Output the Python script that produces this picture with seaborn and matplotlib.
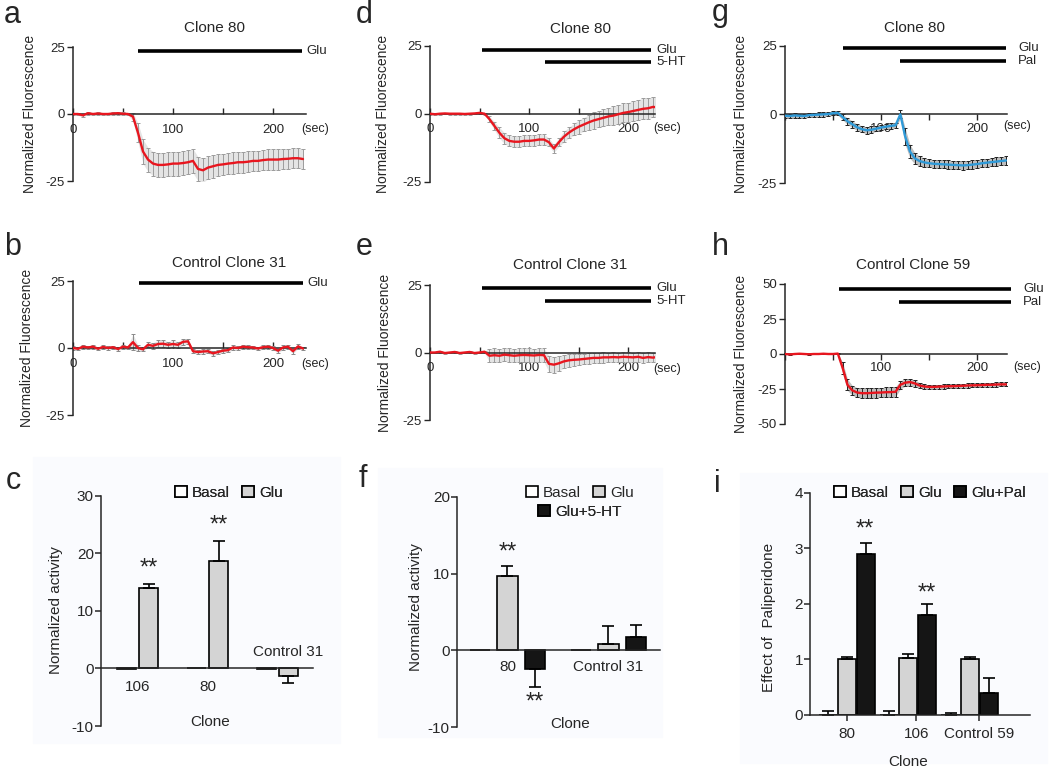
import numpy as np
import pandas as pd
import matplotlib
matplotlib.use('Agg')
import matplotlib.pyplot as plt
from matplotlib.patches import Patch, Rectangle
import seaborn as sns

# ---- imaging traces (sampled every 5 sec) ----
t = np.arange(0, 235, 5)

a_mean = [0, 0, -0.5, 0.3, 0, 0.2, 0, 0, 0.2, 0.3, 0.1, 0,
          -1, -7, -14, -17, -18.5, -19, -19, -18.8, -18.5, -18.5, -18.3, -18,
          -17.5, -20.5, -21, -20, -19.5, -19, -18.8, -18.5, -18.3, -18, -18, -17.8,
          -17.5, -17.5, -17.2, -17, -17, -17, -16.8, -16.7, -16.5, -16.5, -16.8]
a_err = [0.5, 0.5, 0.5, 0.5, 0.5, 0.5, 0.5, 0.5, 0.5, 0.5, 0.5, 0.5,
         1.5, 3.5, 4.5, 4.5, 4.5, 4.5, 4.5, 4.5, 4.5, 4.5, 4.5, 4.5,
         4.5, 4.5, 4.5, 4.2, 4.2, 4.0, 4.0, 4.0, 4.0, 4.0, 4.0, 4.0,
         3.8, 3.8, 3.8, 3.8, 3.8, 3.8, 3.8, 3.8, 3.8, 3.8, 3.8]

b_mean = [0, -0.3, 0.5, 0.2, 0.5, -0.3, 0.4, 0, 0.3, -0.4, 0.5, 0.2,
          2.2, 0, -0.5, 1.2, 0.8, 1.5, 1.6, 1.2, 1.5, 1.2, 2.3, 2.5,
          -1.2, -1.5, -1.3, -1.2, -2.0, -1.5, -1.0, -0.8, 0.2, 0, 0.5, 0.3,
          0.2, -0.2, 0.3, 0.5, 0, -1.0, 0.2, 0.5, -1.2, 0.6, -0.2]
b_err = [0.6, 0.6, 0.8, 0.6, 0.7, 0.6, 0.6, 0.7, 0.6, 0.6, 0.8, 0.7,
         3.0, 1.0, 0.8, 1.0, 1.2, 1.3, 1.3, 1.2, 1.3, 1.2, 1.2, 1.0,
         0.8, 0.8, 0.8, 0.8, 0.9, 0.8, 0.8, 0.8, 0.8, 0.7, 0.8, 0.8,
         0.7, 0.7, 0.8, 0.7, 0.7, 0.8, 0.8, 0.8, 0.9, 0.8, 0.7]

d_mean = [0, -0.2, 0, 0.1, 0, 0, 0, -0.1, 0, 0.1, 0.3, 0,
          -2, -4.5, -7, -9, -10, -10.3, -10.3, -10, -10, -9.8, -9.5, -9.5,
          -10.5, -12.8, -10.5, -8.5, -7, -5.8, -4.8, -4, -3.2, -2.5, -2, -1.5,
          -1, -0.7, -0.2, 0.3, 0.6, 1, 1.4, 1.8, 2, 2.5, 2.3]
d_err = [0.3, 0.3, 0.3, 0.3, 0.3, 0.3, 0.3, 0.3, 0.3, 0.3, 0.3, 0.3,
         1.0, 1.5, 2.0, 2.0, 2.0, 2.0, 2.0, 2.0, 2.0, 2.0, 2.0, 2.0,
         1.5, 1.5, 1.5, 2.0, 2.0, 2.2, 2.5, 2.5, 2.8, 3.0, 3.0, 3.2,
         3.2, 3.5, 3.5, 3.5, 3.5, 3.8, 3.8, 3.8, 3.8, 3.8, 3.8]

e_mean = [0, 0, 0.3, -0.2, 0, 0.2, -0.2, 0, 0.2, -0.2, 0, 0.3,
          -1.2, -1.0, -1.2, -0.8, -1.0, -1.2, -1.0, -0.9, -1.0, -1.1, -0.9, -1.0,
          -4.2, -4.5, -4.0, -3.3, -2.9, -2.7, -2.6, -2.4, -2.2, -2.0, -2.0, -1.8,
          -1.8, -1.7, -1.8, -1.6, -1.7, -1.8, -1.6, -2.0, -1.7, -1.9, -1.6]
e_err = [0.3, 0.3, 0.3, 0.3, 0.3, 0.3, 0.3, 0.3, 0.3, 0.3, 0.3, 0.3,
         2.5, 2.5, 2.5, 2.5, 2.5, 2.5, 2.5, 2.5, 2.5, 2.5, 2.5, 2.5,
         3.0, 3.0, 2.8, 2.5, 2.5, 2.2, 2.2, 2.0, 2.0, 2.0, 2.0, 2.0,
         1.8, 1.8, 1.8, 1.8, 1.8, 1.8, 1.8, 1.8, 1.8, 1.8, 1.8]

g_mean = [-0.5, -0.6, -0.4, -0.5, -0.6, -0.3, -0.2, -0.1, 0, 0.1, 0.4, 0.5,
          -1.0, -2.5, -3.6, -4.7, -5.4, -5.8, -5.6, -5.2, -4.8, -4.5, -4.2, -4.0,
          0.0, -8.0, -13.5, -16.0, -17.0, -17.5, -17.8, -18.0, -18.1, -18.2, -18.3, -18.4,
          -18.5, -18.6, -18.5, -18.3, -18.1, -17.8, -17.6, -17.4, -17.2, -17.0, -16.8]
g_err = [0.8, 0.8, 0.8, 0.8, 0.8, 0.8, 0.8, 0.8, 0.8, 0.8, 0.8, 0.8,
         1.0, 1.2, 1.2, 1.2, 1.2, 1.2, 1.2, 1.0, 1.0, 1.0, 1.0, 1.0,
         1.5, 3.0, 2.5, 2.0, 1.8, 1.6, 1.5, 1.5, 1.5, 1.5, 1.5, 1.5,
         1.5, 1.5, 1.5, 1.5, 1.5, 1.5, 1.5, 1.5, 1.5, 1.5, 1.5]

h_mean = [0, -0.3, 0, 0.2, 0, -0.2, 0, 0, 0.2, 0, 0, 0.3,
          -10, -22, -26, -27.5, -28, -28, -27.8, -27.6, -27.5, -27.3, -27.2, -27,
          -22, -20.5, -20, -21, -22.5, -23.2, -23.5, -23.5, -23.3, -23.2, -23, -23,
          -22.8, -22.7, -22.5, -22.4, -22.3, -22.2, -22, -22, -21.8, -21.7, -21.7]
h_err = [0.2, 0.2, 0.2, 0.2, 0.2, 0.2, 0.2, 0.2, 0.2, 0.2, 0.2, 0.2,
         4.0, 4.0, 3.5, 3.5, 3.5, 3.5, 3.5, 3.5, 3.5, 3.5, 3.5, 3.5,
         3.0, 2.5, 2.5, 2.5, 2.0, 1.5, 1.5, 1.5, 1.5, 1.5, 1.5, 1.5,
         1.5, 1.5, 1.5, 1.5, 1.5, 1.5, 1.5, 1.5, 1.5, 1.5, 1.5]

# drug application bars: (label, start sec, end sec, level)
a_stim = [('Glu', 65, 229, 23.6)]
b_stim = [('Glu', 66, 230, 24.3)]
d_stim = [('Glu', 52, 223, 23.6), ('5-HT', 116, 223, 19.0)]
e_stim = [('Glu', 52, 223, 23.9), ('5-HT', 116, 223, 19.0)]
g_stim = [('Glu', 60, 230, 24.0), ('Pal', 120, 230, 19.5)]
h_stim = [('Glu', 56, 235, 46.6), ('Pal', 119, 235, 36.8)]

# ---- bar charts ----
c_clones = ['106', '80', 'Control 31']
c_conds = ['Basal', 'Glu']
c_means = [[-0.1, 0.0, -0.1], [13.9, 18.6, -1.35]]
c_errs = [[0, 0, 0], [0.7, 3.5, 1.25]]

f_clones = ['80', 'Control 31']
f_conds = ['Basal', 'Glu', 'Glu+5-HT']
f_means = [[0, 0], [9.65, 0.8], [-2.4, 1.75]]
f_errs = [[0, 0], [1.3, 2.35], [2.35, 1.55]]

i_clones = ['80', '106', 'Control 59']
i_conds = ['Basal', 'Glu', 'Glu+Pal']
i_means = [[0, 0, 0], [1.0, 1.02, 1.0], [2.9, 1.8, 0.39]]
i_errs = [[0.08, 0.08, 0.03], [0.05, 0.08, 0.05], [0.2, 0.19, 0.27]]

RED = '#e8161f'
BLUE = '#2f9ad8'
GREY = '#d4d4d4'
DARK = '#151515'

sns.set_theme(style='ticks')
plt.rcParams['font.family'] = ['Liberation Sans', 'DejaVu Sans']
plt.rcParams['axes.unicode_minus'] = False
plt.rcParams['axes.linewidth'] = 1.1

W, H = 1050, 775
fig = plt.figure(figsize=(W / 100, H / 100), dpi=100)


def panel(rect):
    l, tp, r, b = rect
    ax = fig.add_axes([l / W, 1 - b / H, (r - l) / W, (b - tp) / H])
    ax.set_facecolor('none')
    return ax


def label_at(ax, rect, axis, x, y):
    l, tp, r, b = rect
    axis.set_label_coords((x - l) / (r - l), (b - y) / (b - tp))


def ftext(x, y, s, **kw):
    fig.text(x / W, 1 - y / H, s, **kw)


# faint scan background behind the bar panels
for x0, y0, x1, y1 in [(33, 457, 340, 743), (378, 468, 662, 737), (740, 473, 1047, 763)]:
    fig.patches.append(Rectangle((x0 / W, 1 - y1 / H), (x1 - x0) / W, (y1 - y0) / H,
                                 transform=fig.transFigure, color='#fafbfe', zorder=-5))


def trace(rect, mean, err, color, ecolor, band, xmax, ylim, yticks, xlabels, tdir,
          stim, stim_dx, sec_xy, ylab_x):
    ax = panel(rect)
    lo = np.array(mean) - np.array(err)
    hi = np.array(mean) + np.array(err)
    ax.fill_between(t, lo, hi, color=band, lw=0, zorder=1)
    ax.errorbar(t, mean, yerr=err, fmt='none', ecolor=ecolor, elinewidth=0.7,
                capsize=1.3, capthick=0.7, zorder=2)
    sns.lineplot(x=t, y=mean, color=color, lw=1.7, ax=ax, zorder=3)
    ax.set_xlim(0, xmax)
    ax.set_ylim(*ylim)
    for sp in ['top', 'right']:
        ax.spines[sp].set_visible(False)
    ax.spines['bottom'].set_position(('data', 0))
    ax.set_xticks([0, 50, 100, 150, 200], xlabels)
    ax.set_yticks(yticks, [str(v) for v in yticks])
    ax.tick_params(axis='y', direction='out', length=4, width=1, labelsize=9.5, pad=2)
    if tdir == 'in':
        ax.tick_params(axis='x', direction='in', length=4, width=1, labelsize=9.5, pad=7)
    else:
        ax.tick_params(axis='x', direction='out', length=4, width=1, labelsize=9.5, pad=2)
    ax.set_ylabel('Normalized Fluorescence', fontsize=10)
    label_at(ax, rect, ax.yaxis, ylab_x, (rect[1] + rect[3]) / 2)
    for name, s, e, lev in stim:
        ax.plot([s, e], [lev, lev], color='black', lw=2.6, solid_capstyle='butt', clip_on=False)
        ax.text(e + stim_dx, lev, name, va='center', ha='left', fontsize=9.5)
    ftext(sec_xy[0], sec_xy[1], '(sec)', ha='center', va='center', fontsize=9)
    return ax


lab0 = ['0', '', '100', '', '200']
lab1 = ['', '', '100', '', '200']
rect_a = (73, 47, 306, 181)
rect_b = (73, 281, 306, 415)
rect_d = (430, 45.7, 655, 181.7)
rect_e = (430, 285, 655, 420)
rect_g = (785, 45.7, 1007, 183)
rect_h = (785, 284, 1007, 424)

trace(rect_a, a_mean, a_err, RED, '#9c9c9c', '#e4e4e4', 233, (-25, 25), [25, 0, -25], lab0, 'in',
      a_stim, 4, (315, 129), 37)
trace(rect_b, b_mean, b_err, RED, '#8a8a8a', '#e4e4e4', 233, (-25, 25), [25, 0, -25], lab0, 'in',
      b_stim, 4, (315, 364), 34)
trace(rect_d, d_mean, d_err, RED, '#9c9c9c', '#e4e4e4', 227, (-25, 25), [25, 0, -25], lab0, 'in',
      d_stim, 5, (667, 128), 390)
trace(rect_e, e_mean, e_err, RED, '#9c9c9c', '#e4e4e4', 227, (-25, 25), [25, 0, -25], lab0, 'in',
      e_stim, 5, (667, 369), 392)
trace(rect_g, g_mean, g_err, BLUE, '#222222', '#bdbdbd', 231, (-25, 25), [25, 0, -25], lab1, 'out',
      g_stim, 12.5, (1017, 126), 748)
trace(rect_h, h_mean, h_err, RED, '#222222', '#bdbdbd', 231, (-50, 50), [50, 25, 0, -25, -50], lab1, 'out',
      h_stim, 13, (1027, 367), 748)

# titles and panel letters
for x, y, s in [(215, 28, 'Clone 80'), (229, 263, 'Control Clone 31'),
                (580, 29, 'Clone 80'), (570, 265, 'Control Clone 31'),
                (914, 28, 'Clone 80'), (913, 265, 'Control Clone 59')]:
    ftext(x, y, s, ha='center', va='center', fontsize=11)
for x, y, s in [(4, 23, 'a'), (4, 255, 'b'), (6, 489, 'c'), (356, 23, 'd'), (356, 255, 'e'),
                (359, 487, 'f'), (712, 21, 'g'), (712, 255, 'h'), (714, 492, 'i')]:
    ftext(x, y, s, ha='left', va='baseline', fontsize=22)


def bars(rect, clones, conds, means, errs, colors, width, gap, xlim, ylim, yticks):
    ax = panel(rect)
    rows = [(c, k, m) for k, ms in zip(conds, means) for c, m in zip(clones, ms)]
    df = pd.DataFrame(rows, columns=['clone', 'cond', 'value'])
    sns.barplot(data=df, x='clone', y='value', hue='cond', order=clones, hue_order=conds,
                palette=dict(zip(conds, colors)), saturation=1, width=width, gap=gap,
                edgecolor='black', linewidth=1.2, errorbar=None, legend=False, ax=ax)
    for cont, es, ms in zip(ax.containers, errs, means):
        for bar, e, m in zip(cont, es, ms):
            if e <= 0:
                continue
            x = bar.get_x() + bar.get_width() / 2
            yerr = [[e], [0]] if m < 0 else [[0], [e]]
            ax.errorbar(x, m, yerr=yerr, fmt='none', ecolor='black', elinewidth=1.2,
                        capsize=4.5, capthick=1.2, zorder=1)
    ax.set_xlim(*xlim)
    ax.set_ylim(*ylim)
    for sp in ['top', 'right']:
        ax.spines[sp].set_visible(False)
    ax.set_yticks(yticks, [str(v) for v in yticks])
    ax.tick_params(axis='y', direction='out', length=4, width=1.1, labelsize=11, pad=1)
    ax.set_xlabel('Clone', fontsize=11)
    return ax


def legend(ax, conds, colors, xy, ncol):
    handles = [Patch(facecolor=c, edgecolor='black', lw=1.2) for c in colors]
    lg = ax.legend(handles, conds, ncol=ncol, loc='center', frameon=False, fontsize=11,
                   handlelength=0.75, handleheight=0.75, handletextpad=0.35,
                   columnspacing=0.8, borderpad=0,
                   bbox_to_anchor=(xy[0] / W, 1 - xy[1] / H), bbox_transform=fig.transFigure)
    ax.add_artist(lg)


# c
rect_c = (100.7, 495.7, 313, 726)
ax = bars(rect_c, c_clones, c_conds, c_means, c_errs, ['white', GREY], 0.63, 0.16,
          (-0.53, 2.51), (-10, 30), [30, 20, 10, 0, -10])
ax.spines['bottom'].set_position(('data', 0))
ax.set_xticks([0, 1], ['106', '80'])
ax.tick_params(axis='x', length=0, labelsize=11, pad=8)
ax.text(2.16, 2.8, 'Control 31', ha='center', va='center', fontsize=11)
ax.set_ylabel('Normalized activity', fontsize=11)
label_at(ax, rect_c, ax.yaxis, 63, 610)
label_at(ax, rect_c, ax.xaxis, 210, 715)
ax.text(0.16, 17.4, '**', ha='center', va='center', fontsize=17)
ax.text(1.16, 24.9, '**', ha='center', va='center', fontsize=17)
legend(ax, c_conds, ['white', GREY], (229, 493), 2)

# f
rect_f = (456.7, 496.7, 660, 727.3)
ax = bars(rect_f, f_clones, f_conds, f_means, f_errs, ['white', GREY, DARK], 0.816, 0.265,
          (-0.503, 1.51), (-10, 20), [20, 10, 0, -10])
ax.spines['bottom'].set_position(('data', 0))
ax.set_xticks([0, 1], f_clones)
ax.tick_params(axis='x', length=0, labelsize=11, pad=7)
ax.set_ylabel('Normalized activity', fontsize=11)
label_at(ax, rect_f, ax.yaxis, 423, 607)
label_at(ax, rect_f, ax.xaxis, 570, 717)
ax.text(0.0, 12.7, '**', ha='center', va='center', fontsize=17)
ax.text(0.27, -6.75, '**', ha='center', va='center', fontsize=17)
legend(ax, f_conds[:2], ['white', GREY], (580, 493), 2)
legend(ax, f_conds[2:], [DARK], (580, 512), 1)

# i
rect_i = (810, 492.7, 1030, 715)
ax = bars(rect_i, i_clones, i_conds, i_means, i_errs, ['white', GREY, DARK], 0.93, 0.05,
          (-0.6, 2.985), (0, 4), [0, 1, 2, 3, 4])
ax.set_xticks([0, 1.13, 2.15], i_clones)
ax.tick_params(axis='x', direction='out', length=4, width=1.1, labelsize=11, pad=5)
ax.set_ylabel('Effect of  Paliperidone', fontsize=11)
label_at(ax, rect_i, ax.yaxis, 776, 617)
label_at(ax, rect_i, ax.xaxis, 908, 755)
ax.text(0.3, 3.33, '**', ha='center', va='center', fontsize=17)
ax.text(1.31, 2.18, '**', ha='center', va='center', fontsize=17)
legend(ax, i_conds, ['white', GREY, DARK], (930, 493), 3)

fig.savefig('out.png', dpi=100)
